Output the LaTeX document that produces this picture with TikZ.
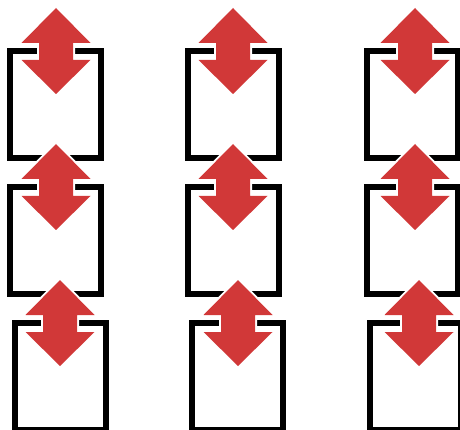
\documentclass[tikz,border=0pt]{standalone}
\definecolor{arrowred}{RGB}{209,56,56}
\tikzset{
  box/.style={draw=black, line width=6pt, fill=white, minimum width=91pt, minimum height=107pt, inner sep=0pt, outer sep=0pt},
  dblarrow/.pic={
    \path[fill=arrowred, preaction={draw=white, line width=4pt, line join=round}]
      (0,0) -- (34.5,35) -- (17,35) -- (17,52) -- (34.5,52) -- (0,86)
      -- (-34.5,52) -- (-17,52) -- (-17,35) -- (-34.5,35) -- cycle;
  }
}
\begin{document}
\begin{tikzpicture}[x=1pt, y=-1pt]
\useasboundingbox (0,0) rectangle (460,430);
\clip (0,0) rectangle (460,430);
% boxes
\node[box] (b11) at (55.5,104.5) {};
\node[box] (b12) at (233,104.5) {};
\node[box] (b13) at (412,104.5) {};
\node[box] (b21) at (55.5,240.5) {};
\node[box] (b22) at (233,240.5) {};
\node[box] (b23) at (412,240.5) {};
\node[box] (b31) at (60,376.5) {};
\node[box] (b32) at (237.5,376.5) {};
\node[box] (b33) at (415,376.5) {};
% arrows
\pic at (56,8) {dblarrow};
\pic at (233,8) {dblarrow};
\pic at (415,8) {dblarrow};
\pic at (56,144) {dblarrow};
\pic at (233,144) {dblarrow};
\pic at (415,144) {dblarrow};
\pic at (60,280) {dblarrow};
\pic at (238,280) {dblarrow};
\pic at (419,280) {dblarrow};
\end{tikzpicture}
\end{document}
